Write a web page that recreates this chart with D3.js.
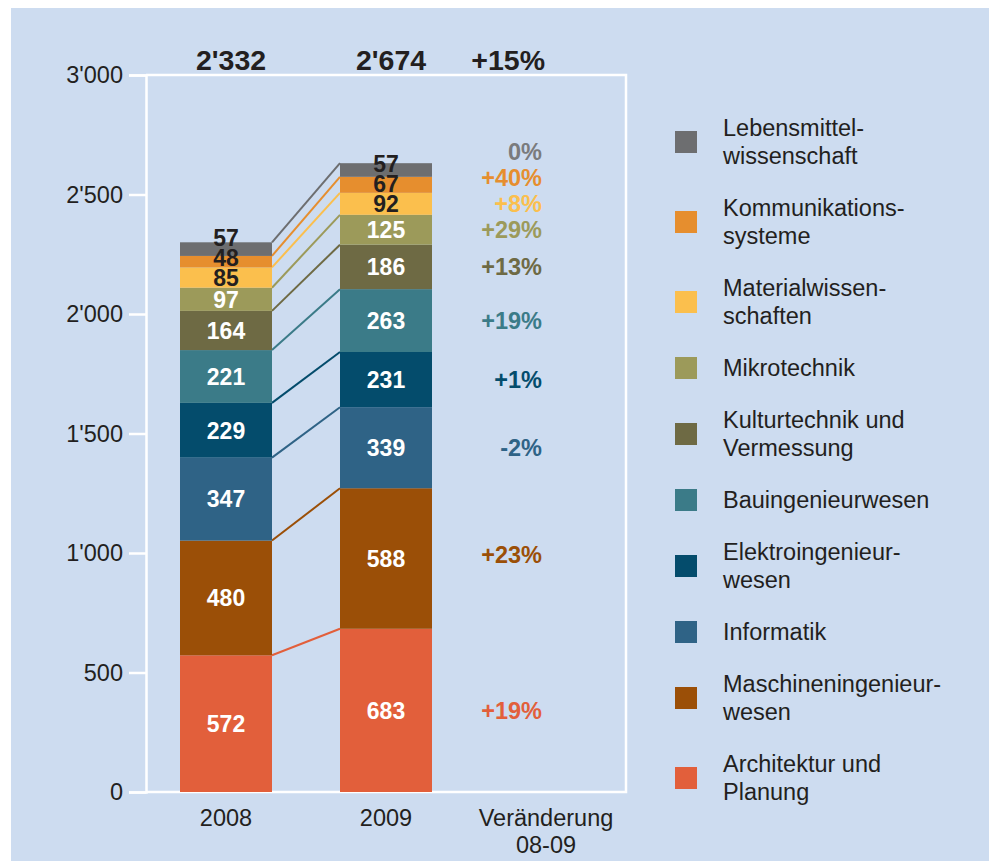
<!DOCTYPE html>
<html>
<head>
<meta charset="utf-8">
<script src="https://cdn.jsdelivr.net/npm/d3@7"></script>
<style>
	body { margin: 0; background: #fff; }
	svg text { font-family: "Liberation Sans", Arial, sans-serif; }
</style>
</head>
<body>
<div id="chart"></div>
<script>

//data, bottom to top of the stack
const series = ["Architektur und Planung", "Maschineningenieurwesen", "Informatik", "Elektroingenieurwesen", "Bauingenieurwesen", "Kulturtechnik und Vermessung", "Mikrotechnik", "Materialwissenschaften", "Kommunikationssysteme", "Lebensmittelwissenschaft"];
const legendLines = [["Architektur und", "Planung"], ["Maschineningenieur-", "wesen"], ["Informatik"], ["Elektroingenieur-", "wesen"], ["Bauingenieurwesen"], ["Kulturtechnik und", "Vermessung"], ["Mikrotechnik"], ["Materialwissen-", "schaften"], ["Kommunikations-", "systeme"], ["Lebensmittel-", "wissenschaft"]];
const colors = ["#e25f3b", "#9b4f07", "#2f6386", "#044c6c", "#3b7b88", "#6e6a44", "#9c9a5a", "#fbbf4d", "#e68e2e", "#6d6e70"];
const pctColors = ["#e25f3b", "#9b4f07", "#2f6386", "#044c6c", "#3b7b88", "#6e6a44", "#9c9a5a", "#fbbf4d", "#e68e2e", "#7a7b7d"];
const values2008 = [572, 480, 347, 229, 221, 164, 97, 85, 48, 57];
const values2009 = [683, 588, 339, 231, 263, 186, 125, 92, 67, 57];
const changes = ["+19%", "+23%", "-2%", "+1%", "+19%", "+13%", "+29%", "+8%", "+40%", "0%"];
const darkLabel = [false, false, false, false, false, false, false, true, true, true];
const categories = ["2008", "2009", "Veränderung"];
const totals = ["2'332", "2'674", "+15%"];
const yTicks = [0, 500, 1000, 1500, 2000, 2500, 3000];

const width = 989, height = 861;
const textColor = "#231f20";
const fontSize = 23.5;

let svg = d3.select("#chart").append("svg")
	.attr("width", width)
	.attr("height", height);

//background panel
svg.append("rect")
	.attr("x", 11).attr("y", 8)
	.attr("width", width - 11).attr("height", height - 8)
	.attr("fill", "#cddcf0");

//scales
let x = d3.scaleBand().domain(categories).range([146, 626]).paddingInner(0.425).paddingOuter(0.2125);
let y = d3.scaleLinear().domain([0, 3000]).range([792, 75]);
const center = (c) => x(c) + x.bandwidth() / 2;

//frame
svg.append("path")
	.attr("d", "M" + x.range()[0] + "," + y(3000) + "H" + x.range()[1] + "V" + y(0) + "H" + x.range()[0])
	.attr("fill", "none")
	.attr("stroke", "#fff")
	.attr("stroke-width", 2.5);

//y axis with apostrophe thousands
const fmt = d3.formatLocale({decimal: ".", thousands: "'", grouping: [3], currency: ["", ""]}).format(",");
let yAxis = svg.append("g")
	.attr("transform", "translate(" + x.range()[0] + ",0)")
	.call(d3.axisLeft(y).tickValues(yTicks).tickFormat(fmt).tickSize(17).tickPadding(6));
yAxis.select(".domain").attr("stroke", "#fff").attr("stroke-width", 2.5);
yAxis.selectAll(".tick line").attr("stroke", "#fff").attr("stroke-width", 2.5);
yAxis.selectAll(".tick text")
	.attr("fill", textColor)
	.attr("font-size", fontSize)
	.attr("font-family", "Liberation Sans, Arial, sans-serif");

//stack data
function stackOf(vals){
	let acc = 0;
	return vals.map((v, i) => {
		let s = {i: i, v: v, y0: acc, y1: acc + v};
		acc += v;
		return s;
	});
}
const stacks = {"2008": stackOf(values2008), "2009": stackOf(values2009)};

//connector lines between segment tops
let s08 = stacks["2008"], s09 = stacks["2009"];
svg.append("g").selectAll("line")
	.data(series.map((d, i) => i))
	.enter().append("line")
	.attr("x1", x("2008") + x.bandwidth())
	.attr("y1", (i) => y(s08[i].y1))
	.attr("x2", x("2009"))
	.attr("y2", (i) => y(s09[i].y1))
	.attr("stroke", (i) => colors[i])
	.attr("stroke-width", 2);

//bars
["2008", "2009"].forEach((yr) => {
	let g = svg.append("g");
	g.selectAll("rect")
		.data(stacks[yr])
		.enter().append("rect")
		.attr("x", x(yr))
		.attr("width", x.bandwidth())
		.attr("y", (d) => y(d.y1))
		.attr("height", (d) => y(d.y0) - y(d.y1))
		.attr("fill", (d) => colors[d.i]);

	//label positions: segment centre, pushed up when too close
	let ly = stacks[yr].map((d) => y((d.y0 + d.y1) / 2));
	for (let k = 1; k < ly.length; k++){
		ly[k] = Math.min(ly[k], ly[k - 1] - 20);
	}
	g.selectAll("text")
		.data(stacks[yr])
		.enter().append("text")
		.attr("x", center(yr))
		.attr("y", (d, k) => ly[k])
		.attr("dy", "0.36em")
		.attr("text-anchor", "middle")
		.attr("font-size", 23)
		.attr("font-weight", "bold")
		.attr("fill", (d) => darkLabel[d.i] ? textColor : "#fff")
		.text((d) => d.v);
});

//change labels
let py = s09.map((d) => y((d.y0 + d.y1) / 2));
py[1] -= 4;
for (let k = 1; k < py.length; k++){
	py[k] = Math.min(py[k], py[k - 1] - 26);
}
svg.append("g").selectAll("text")
	.data(changes)
	.enter().append("text")
	.attr("x", center("Veränderung") - 4)
	.attr("y", (d, k) => py[k])
	.attr("dy", "0.36em")
	.attr("text-anchor", "end")
	.attr("font-size", fontSize)
	.attr("font-weight", "bold")
	.attr("fill", (d, k) => pctColors[k])
	.text((d) => d);

//totals on top
svg.append("g").selectAll("text")
	.data(categories)
	.enter().append("text")
	.attr("x", (c, k) => k < 2 ? center(c) + 5 : center(c) - 1)
	.attr("y", 70)
	.attr("text-anchor", (c, k) => k < 2 ? "middle" : "end")
	.attr("font-size", 28.5)
	.attr("font-weight", "bold")
	.attr("fill", textColor)
	.text((c, k) => totals[k]);

//category labels
const catLines = [["2008"], ["2009"], ["Veränderung", "08-09"]];
categories.forEach((c, k) => {
	let t = svg.append("text")
		.attr("x", center(c))
		.attr("y", 826)
		.attr("text-anchor", "middle")
		.attr("font-size", fontSize)
		.attr("fill", textColor);
	catLines[k].forEach((line, j) => {
		t.append("tspan").attr("x", center(c)).attr("dy", j === 0 ? 0 : 27).text(line);
	});
});

//legend, top item first
const lineH = 28, gap = 24;
let legend = svg.append("g");
let cursor = 114;
d3.range(series.length - 1, -1, -1).forEach((i) => {
	let lines = legendLines[i];
	let h = lines.length * lineH;
	let cy = cursor + h / 2;
	legend.append("rect")
		.attr("x", 675).attr("y", cy - 11)
		.attr("width", 22).attr("height", 22)
		.attr("fill", colors[i]);
	lines.forEach((line, j) => {
		legend.append("text")
			.attr("x", 723)
			.attr("y", cy + (j - (lines.length - 1) / 2) * lineH)
			.attr("dy", "0.36em")
			.attr("font-size", fontSize)
			.attr("fill", textColor)
			.text(line);
	});
	cursor += h + gap;
});

</script>
</body>
</html>
